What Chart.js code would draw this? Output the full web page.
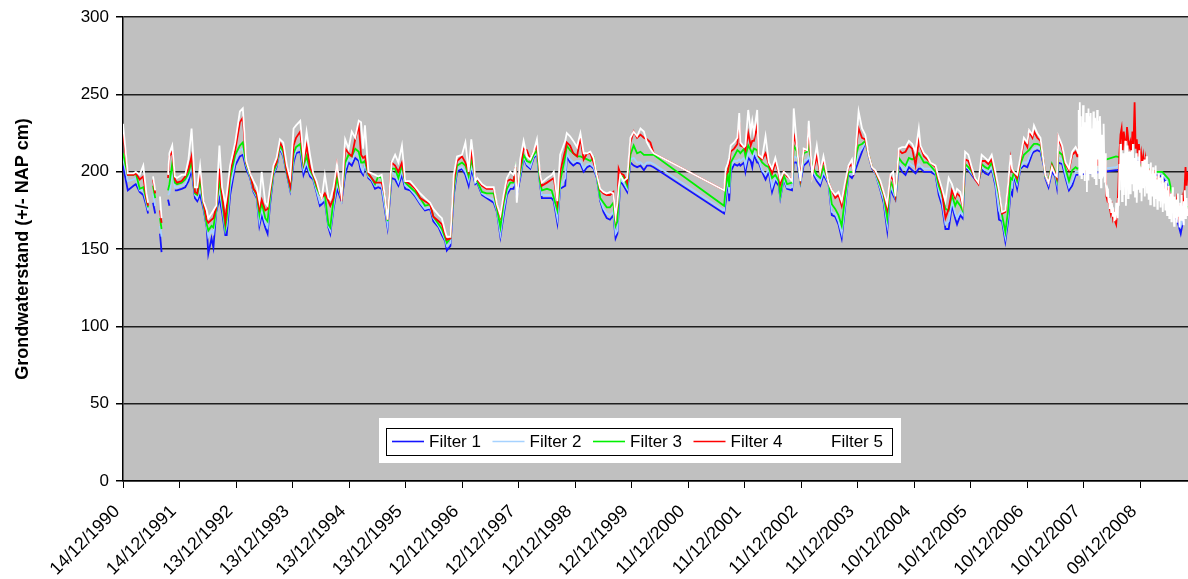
<!DOCTYPE html>
<html>
<head>
<meta charset="utf-8">
<title>Grondwaterstand filters 1-5</title>
<script src="https://cdn.jsdelivr.net/npm/chart.js@4.4.1/dist/chart.umd.min.js"></script>
<style>
  html, body { margin: 0; padding: 0; background: #fff; }
  #wrap { width: 1188px; height: 579px; }
</style>
</head>
<body>
<div id="wrap"><canvas id="chart" width="1188" height="579"></canvas></div>
<script>
// Axis tick labels (one per 365 days from the first reading)
const tickLabels = ['14/12/1990', '14/12/1991', '13/12/1992', '13/12/1993', '13/12/1994', '13/12/1995',
  '12/12/1996', '12/12/1997', '12/12/1998', '12/12/1999', '11/12/2000', '11/12/2001', '11/12/2002',
  '11/12/2003', '10/12/2004', '10/12/2005', '10/12/2006', '10/12/2007', '09/12/2008'];
const axisStart = '1990-12-14';
const axisEnd = '2009-10-15';

const seriesNames = ['Filter 1', 'Filter 2', 'Filter 3', 'Filter 4', 'Filter 5'];

// Manual readings (cm +/- NAP); null = no reading on that date
const dates = [
  '1990-12-14', '1991-01-14', '1991-02-20', '1991-03-07', '1991-04-01', '1991-04-24', '1991-05-14', '1991-05-25', '1991-06-14', '1991-06-26', '1991-07-10', '1991-07-25', '1991-08-10', '1991-08-20', '1991-09-14', '1991-10-01', '1991-10-10', '1991-10-28', '1991-11-14', '1991-11-28', '1991-12-28',
  '1992-01-20', '1992-02-10', '1992-03-01', '1992-03-23', '1992-04-07', '1992-04-25', '1992-05-17', '1992-06-07', '1992-06-17', '1992-07-08', '1992-07-20', '1992-08-07', '1992-08-28', '1992-09-14', '1992-10-05', '1992-10-14', '1992-11-05', '1992-12-08',
  '1993-01-07', '1993-01-26', '1993-02-17', '1993-03-14', '1993-04-05', '1993-04-26', '1993-05-13', '1993-05-28', '1993-06-20', '1993-07-05', '1993-07-20', '1993-08-12', '1993-09-01', '1993-09-23', '1993-10-14', '1993-11-07', '1993-11-28', '1993-12-20',
  '1994-01-05', '1994-02-01', '1994-02-22', '1994-03-14', '1994-04-05', '1994-04-26', '1994-05-17', '1994-06-08', '1994-06-20', '1994-07-10', '1994-08-02', '1994-08-14', '1994-09-04', '1994-09-26', '1994-10-26', '1994-11-18', '1994-12-10', '1994-12-31',
  '1995-01-22', '1995-02-14', '1995-03-01', '1995-03-14', '1995-03-26', '1995-04-17', '1995-05-08', '1995-05-30', '1995-06-20', '1995-07-12', '1995-08-01', '1995-08-19', '1995-09-14', '1995-10-07', '1995-10-28', '1995-11-20', '1995-12-11',
  '1996-01-12', '1996-02-14', '1996-03-17', '1996-04-17', '1996-05-20', '1996-06-10', '1996-07-14', '1996-08-04', '1996-08-26', '1996-09-05', '1996-09-28', '1996-10-20', '1996-11-10', '1996-12-12',
  '1997-01-03', '1997-01-24', '1997-02-10', '1997-02-24', '1997-03-08', '1997-03-20', '1997-04-20', '1997-05-20', '1997-07-05', '1997-07-26', '1997-08-17', '1997-09-07', '1997-09-28', '1997-10-20', '1997-11-10', '1997-11-22', '1997-12-01', '1997-12-23',
  '1998-01-14', '1998-02-04', '1998-02-26', '1998-03-20', '1998-04-10', '1998-05-01', '1998-05-12', '1998-06-14', '1998-07-14', '1998-07-28', '1998-08-20', '1998-09-07', '1998-10-10', '1998-10-20', '1998-11-10', '1998-12-01', '1998-12-25',
  '1999-01-16', '1999-02-06', '1999-02-28', '1999-03-21', '1999-04-11', '1999-05-02', '1999-05-24', '1999-06-14', '1999-07-05', '1999-07-26', '1999-08-17', '1999-08-31', '1999-09-12', '1999-09-20', '1999-10-01', '1999-10-22', '1999-11-14', '1999-12-05', '1999-12-26',
  '2000-01-17', '2000-02-08', '2000-03-01', '2000-03-21', '2000-04-12', '2000-05-03',
  '2001-08-01', '2001-08-12', '2001-08-24', '2001-09-03', '2001-09-13', '2001-10-05', '2001-10-26', '2001-11-07', '2001-11-14', '2001-12-08', '2001-12-17',
  '2002-01-04', '2002-01-20', '2002-01-30', '2002-02-10', '2002-03-03', '2002-03-12', '2002-04-04', '2002-04-26', '2002-05-17', '2002-06-07', '2002-06-28', '2002-07-20', '2002-07-30', '2002-08-21', '2002-09-12', '2002-10-14', '2002-10-25', '2002-11-16', '2002-12-07', '2002-12-28',
  '2003-01-20', '2003-01-30', '2003-02-21', '2003-03-23', '2003-04-14', '2003-05-05', '2003-06-07', '2003-06-28', '2003-07-20', '2003-08-10', '2003-08-31', '2003-09-23', '2003-10-14', '2003-11-05', '2003-11-16', '2003-12-07', '2003-12-18',
  '2004-01-09', '2004-01-30', '2004-02-21', '2004-03-14', '2004-04-04', '2004-05-07', '2004-05-28', '2004-06-20', '2004-07-10', '2004-07-28', '2004-08-12', '2004-09-03', '2004-09-24', '2004-10-16', '2004-11-07', '2004-11-28', '2004-12-20',
  '2005-01-10', '2005-01-21', '2005-02-12', '2005-03-05', '2005-03-26', '2005-04-28', '2005-05-19', '2005-06-09', '2005-07-01', '2005-07-22', '2005-08-12', '2005-09-02', '2005-09-14', '2005-10-05', '2005-10-20', '2005-11-05', '2005-11-26', '2005-12-18',
  '2006-01-09', '2006-01-30', '2006-02-20', '2006-03-14', '2006-04-04', '2006-04-26', '2006-05-20', '2006-06-12', '2006-07-02', '2006-07-23', '2006-08-10', '2006-08-26', '2006-09-05', '2006-09-16', '2006-10-07', '2006-10-28', '2006-11-20', '2006-12-12', '2006-12-23',
  '2007-01-14', '2007-01-24', '2007-02-14', '2007-03-07', '2007-03-28', '2007-04-07', '2007-04-28', '2007-05-20', '2007-06-10', '2007-06-21', '2007-07-01', '2007-07-25', '2007-08-16', '2007-09-07', '2007-09-28', '2007-10-20', '2007-10-30'
];

const filter1 = [
  204, 188, 191, 192, 187, 185, 178, 173, null, 180, 173, null, 160, 148, null, 182, 178, null, 188, 188, 189,
  190, 194, 201, 183, 181, 185, 176, 164, 147, 157, 151, 174, 183, 174, 159, 159, 185, 204,
  210, 211, 202, 196, 187, 183, 165, 172, 164, 160, 178, 198, 203, 215, 210, 198, 188, 206,
  212, 213, 198, 204, 197, 195, 187, 178, 179, 181, 164, 160, 176, 189, 181, 198, 206, 204,
  209, 207, 200, 198, 205, 196, 194, 189, 190, 189, 176, 164, 196, 195, 191, 198, 189,
  188, 184, 179, 175, 176, 168, 164, 159, 155, 149, 152, 185, 200, 202,
  198, 191, 201, 197, 192, 193, 185, 183, 180, 174, 158, 172, 185, 189, 189, 198, 185, 196,
  209, 204, 202, 209, 211, 191, 183, 183, 183, 181, 167, 189, 191, 210, 206, 204, 206,
  205, 200, 203, 204, 202, 196, 181, 174, 170, 169, 172, 157, 160, 175, 194, 191, 187, 206, 204,
  203, 204, 201, 204, 204, 203,
  173, 181, 196, 181, 200, 205, 204, 205, 204, 206, 200,
  209, 207, 203, 211, 206, 206, 200, 195, 200, 187, 194, 191, 183, 195, 189, 188, 206, 206, 193, 204,
  206, 208, 200, 194, 191, 198, 192, 172, 171, 166, 157, 178, 198, 196, 198, 204, 207,
  213, 219, 210, 202, 199, 188, 180, 162, 189, 185, 182, 204, 200, 198, 203, 201, 199,
  202, 202, 200, 200, 200, 198, 185, 178, 163, 163, 178, 170, 166, 172, 170, 202, 201, 198,
  195, 193, 202, 199, 198, 202, 191, 169, 168, 155, 168, 187, 185, 198, 189, 202, 204, 203, 206,
  212, 213, 214, 213, 204, 196, 190, 200, 197, 190, 206, 205, 196, 188, 191, 198, 198
];

const filter2 = [
  209, 194, 195, 196, 188, 188, 180, 175, null, 186, 178, null, 165, 158, null, 185, 186, 200, 190, 190, 191,
  192, 197, 204, 185, 183, 190, 178, 165, 158, 162, 160, 175, 190, 178, 162, 165, 190, 207,
  214, 215, 204, 197, 188, 184, 168, 176, 167, 164, 181, 199, 204, 216, 211, 199, 189, 209,
  214, 216, 201, 206, 199, 196, 188, 180, 181, 183, 165, 162, 178, 193, 182, 202, 208, 207,
  212, 210, 203, 200, 205, 197, 195, 191, 192, 191, 178, 166, 200, 198, 193, 201, 191,
  189, 185, 180, 176, 177, 170, 165, 161, 156, 152, 154, 188, 202, 203,
  200, 194, 204, 199, 193, 194, 186, 184, 182, 175, 160, 175, 187, 191, 191, 200, 186, 198,
  210, 205, 203, 210, 212, 192, 185, 185, 185, 183, 170, 190, 196, 212, 208, 206, 207,
  207, 202, 205, 205, 203, 197, 182, 176, 173, 172, 174, 160, 162, 180, 195, 193, 189, 208, 209,
  206, 206, 204, 206, 206, 205,
  175, 186, 197, 186, 203, 207, 207, 208, 207, 209, 204,
  212, 210, 208, 213, 209, 208, 201, 198, 202, 190, 196, 193, 184, 196, 190, 190, 210, 209, 194, 207,
  208, 210, 201, 196, 193, 200, 193, 174, 173, 168, 160, 180, 199, 198, 199, 209, 212,
  215, 219, 210, 203, 199, 189, 182, 166, 191, 187, 183, 206, 203, 201, 206, 204, 203,
  205, 204, 202, 202, 202, 199, 188, 181, 166, 168, 181, 173, 170, 174, 172, 204, 202, 199,
  196, 193, 203, 201, 200, 203, 193, 175, 170, 158, 172, 191, 190, 199, 192, 203, 206, 206, 209,
  214, 215, 216, 215, 205, 197, 192, 202, 199, 193, 209, 208, 198, 190, 194, 200, 200
];

const filter3 = [
  212, 198, 198, 199, 189, 190, 182, 177, null, 191, 183, null, 170, 163, null, 188, 192, 205, 193, 192, 193,
  195, 199, 207, 186, 185, 194, 179, 166, 162, 165, 164, 176, 195, 182, 164, 170, 196, 211,
  217, 219, 205, 198, 189, 185, 172, 180, 170, 168, 183, 200, 205, 217, 213, 199, 190, 212,
  216, 218, 204, 210, 201, 197, 190, 185, 184, 185, 166, 164, 182, 196, 183, 206, 211, 210,
  215, 213, 206, 206, 207, 198, 196, 192, 197, 196, 184, 168, 202, 202, 196, 204, 193,
  190, 187, 183, 178, 179, 171, 166, 163, 157, 154, 157, 190, 204, 206,
  204, 197, 208, 202, 195, 194, 187, 186, 186, 176, 164, 180, 189, 193, 193, 201, 187, 200,
  211, 207, 206, 211, 214, 193, 188, 189, 188, 183, 175, 194, 210, 217, 214, 212, 210,
  210, 209, 208, 207, 209, 198, 183, 180, 177, 177, 180, 165, 168, 185, 197, 197, 191, 211, 217,
  212, 213, 211, 211, 211, 211,
  178, 190, 199, 190, 206, 210, 214, 213, 212, 215, 210,
  217, 214, 212, 215, 214, 210, 206, 204, 203, 196, 198, 194, 185, 198, 192, 193, 217, 213, 195, 212,
  213, 217, 204, 198, 196, 203, 194, 179, 176, 172, 165, 185, 200, 200, 200, 213, 217,
  218, 220, 211, 203, 200, 191, 185, 170, 194, 190, 184, 209, 206, 204, 209, 208, 209,
  212, 210, 206, 206, 204, 200, 191, 185, 176, 175, 185, 178, 181, 178, 175, 205, 203, 200,
  196, 193, 205, 203, 202, 206, 196, 185, 172, 161, 175, 196, 195, 200, 194, 205, 211, 213, 214,
  217, 218, 218, 217, 206, 197, 194, 205, 200, 195, 213, 211, 202, 194, 201, 203, 202
];

const filter4 = [
  226, 198, 198, 199, 195, 197, 183, 178, null, 195, 186, null, 175, 167, null, 196, 210, 213, 195, 193, 194,
  197, 202, 210, 187, 186, 200, 180, 169, 167, 169, 170, 177, 202, 185, 168, 177, 200, 214,
  232, 235, 206, 199, 189, 186, 176, 182, 175, 176, 186, 202, 206, 219, 215, 200, 191, 217,
  222, 226, 206, 217, 203, 198, 192, 186, 183, 186, 181, 178, 183, 204, 181, 215, 212, 210,
  221, 230, 211, 209, 210, 199, 196, 193, 193, 193, 185, 169, 206, 204, 200, 206, 194,
  192, 189, 183, 181, 179, 171, 168, 166, 159, 156, 157, 194, 207, 210,
  206, 200, 213, 204, 196, 195, 191, 189, 189, 178, 171, 183, 194, 195, 194, 203, 188, 203,
  215, 214, 208, 213, 217, 197, 191, 193, 195, 196, 180, 200, 214, 219, 217, 212, 210,
  222, 208, 212, 212, 206, 199, 188, 186, 185, 185, 187, 170, 178, 202, 199, 198, 193, 219, 226,
  222, 224, 222, 221, 219, 212,
  188, 198, 200, 205, 213, 215, 218, 232, 217, 216, 214,
  225, 217, 220, 220, 230, 210, 208, 212, 205, 199, 206, 199, 192, 200, 197, 195, 224, 216, 196, 214,
  214, 228, 198, 210, 199, 208, 193, 188, 183, 185, 178, 192, 203, 205, 200, 220, 228,
  222, 221, 211, 203, 200, 193, 186, 176, 197, 195, 185, 214, 212, 213, 217, 215, 204,
  220, 216, 210, 208, 206, 203, 194, 187, 170, 176, 188, 183, 186, 184, 178, 208, 207, 201,
  195, 192, 207, 207, 205, 208, 198, 187, 173, 174, 190, 208, 200, 200, 196, 207, 220, 216, 226,
  222, 226, 222, 220, 206, 198, 193, 204, 199, 196, 222, 215, 205, 201, 211, 213, 210
];

const filter5 = [
  231, 199, 199, 200, 198, 204, 186, 180, null, 197, 188, null, 184, 170, null, 198, 212, 217, 197, 196, 198,
  198, 208, 228, 190, 190, 204, 181, 175, 170, 173, 175, 178, 217, 190, 179, 185, 204, 219,
  239, 241, 207, 199, 194, 190, 181, 200, 180, 178, 189, 204, 209, 221, 219, 204, 196, 228,
  230, 233, 209, 226, 211, 199, 194, 186, 183, 198, 183, 182, 190, 205, 184, 221, 215, 226,
  222, 233, 232, 215, 230, 200, 199, 198, 197, 198, 185, 169, 206, 211, 206, 217, 194,
  194, 190, 186, 183, 180, 176, 172, 170, 161, 158, 158, 198, 210, 211,
  219, 200, 221, 209, 194, 196, 192, 190, 190, 179, 172, 185, 196, 200, 198, 203, 180, 208,
  220, 210, 208, 213, 221, 198, 193, 196, 198, 200, 181, 211, 220, 225, 223, 220, 216,
  225, 212, 212, 213, 209, 198, 189, 187, 186, 187, 186, 171, 180, 190, 198, 194, 196, 222, 226,
  223, 228, 226, 219, 215, 212,
  188, 202, 205, 209, 217, 219, 222, 238, 219, 216, 217,
  240, 226, 233, 225, 240, 211, 209, 223, 206, 202, 209, 200, 195, 200, 198, 194, 241, 215, 194, 215,
  214, 233, 198, 217, 200, 210, 193, 188, 185, 187, 181, 194, 204, 208, 198, 224, 239,
  228, 224, 211, 203, 201, 194, 187, 179, 198, 200, 184, 215, 216, 216, 220, 218, 213,
  228, 217, 212, 210, 206, 204, 196, 189, 181, 196, 192, 185, 189, 187, 179, 213, 211, 203,
  196, 193, 211, 209, 207, 211, 200, 188, 174, 175, 192, 211, 202, 200, 198, 209, 222, 219, 227,
  224, 230, 225, 222, 206, 198, 193, 203, 198, 197, 223, 217, 206, 202, 213, 216, 214
];

// Later manual readings of filters 1-3
const lateDates = ['2008-07-07', '2008-08-17', '2008-09-29', '2008-12-03', '2009-01-17', '2009-03-20',
  '2009-05-02', '2009-06-14', '2009-07-05', '2009-08-08', '2009-08-29', '2009-09-20', '2009-10-11'];
const filter1Late = [201, 202, 204, 207, 202, 198, 197, 190, 175, 168, 160, 172, 175];
const filter2Late = [203, 205, 206, 209, 204, 200, 199, 193, 180, 172, 165, 175, 178];
const filter3Late = [210, 209, 206, 205, 203, 200, 200, 195, 185, 178, 170, 174, 178];

// Weekly logger readings of filter 4 (Tuesdays)
const filter4LoggerDates = [
  '2007-11-06', '2007-11-13', '2007-11-20', '2007-11-27', '2007-12-04', '2007-12-11', '2007-12-18', '2007-12-25',
  '2008-01-01', '2008-01-08', '2008-01-15', '2008-01-22', '2008-01-29', '2008-02-05', '2008-02-12', '2008-02-19', '2008-02-26',
  '2008-03-04', '2008-03-11', '2008-03-18', '2008-03-25', '2008-04-01', '2008-04-08', '2008-04-15', '2008-04-22', '2008-04-29',
  '2008-05-06', '2008-05-13', '2008-05-20', '2008-05-27', '2008-06-03', '2008-06-10', '2008-06-17', '2008-06-24',
  '2008-07-01', '2008-07-08', '2008-07-15', '2008-07-22', '2008-07-29', '2008-08-05', '2008-08-12', '2008-08-19', '2008-08-26',
  '2008-09-02', '2008-09-09', '2008-09-16', '2008-09-23', '2008-09-30', '2008-10-07', '2008-10-14', '2008-10-21', '2008-10-28',
  '2008-11-04', '2008-11-11', '2008-11-18', '2008-11-25', '2008-12-02', '2008-12-09', '2008-12-16', '2008-12-23', '2008-12-30',
  '2009-01-06', '2009-01-13', '2009-01-20', '2009-01-27', '2009-02-03', '2009-02-10', '2009-02-17', '2009-02-24',
  '2009-03-03', '2009-03-10', '2009-03-17', '2009-03-24', '2009-03-31', '2009-04-07', '2009-04-14', '2009-04-21', '2009-04-28',
  '2009-05-05', '2009-05-12', '2009-05-19', '2009-05-26', '2009-06-02', '2009-06-09', '2009-06-16', '2009-06-23', '2009-06-30',
  '2009-07-07', '2009-07-14', '2009-07-21', '2009-07-28', '2009-08-04', '2009-08-11', '2009-08-18', '2009-08-25',
  '2009-09-01', '2009-09-08', '2009-09-15', '2009-09-22', '2009-09-29', '2009-10-06', '2009-10-13'
];
const filter4Logger = [
  210, 222, 204, 220, 206, 226, 200, 214,
  196, 218, 222, 206, 220, 210, 212, 221, 200, 217, 204, 224, 210, 219, 198, 214, 203, 206,
  184, 181, 182, 177, 173, 177, 170, 173, 168, 166, 175, 190,
  212, 224, 228, 214, 226, 220, 212, 229, 222, 216, 219, 210, 226, 218, 245, 215, 221, 210, 218, 207, 212, 204, 210,
  203, 208, 198, 205, 196, 202, 192, 199, 194, 201, 190, 196, 187, 198, 191, 188, 194, 184, 190, 186,
  181, 190, 183, 187, 179, 186, 176, 183, 179, 174, 181, 175, 170, 177, 175, 182, 176, 187, 203, 191, 200
];

// Twice-weekly logger readings of filter 5 (Tuesdays and Fridays)
const filter5LoggerDates = [
  '2007-11-06', '2007-11-09', '2007-11-13', '2007-11-16', '2007-11-20', '2007-11-23', '2007-11-27', '2007-11-30',
  '2007-12-04', '2007-12-07', '2007-12-11', '2007-12-14', '2007-12-18', '2007-12-21', '2007-12-25', '2007-12-28',
  '2008-01-01', '2008-01-04', '2008-01-08', '2008-01-11', '2008-01-15', '2008-01-18', '2008-01-22', '2008-01-25', '2008-01-29',
  '2008-02-01', '2008-02-05', '2008-02-08', '2008-02-12', '2008-02-15', '2008-02-19', '2008-02-22', '2008-02-26', '2008-02-29',
  '2008-03-04', '2008-03-07', '2008-03-11', '2008-03-14', '2008-03-18', '2008-03-21', '2008-03-25', '2008-03-28',
  '2008-04-01', '2008-04-04', '2008-04-08', '2008-04-11', '2008-04-15', '2008-04-18', '2008-04-22', '2008-04-25', '2008-04-29',
  '2008-05-02', '2008-05-06', '2008-05-09', '2008-05-13', '2008-05-16', '2008-05-20', '2008-05-23', '2008-05-27', '2008-05-30',
  '2008-06-03', '2008-06-06', '2008-06-10', '2008-06-13', '2008-06-17', '2008-06-20', '2008-06-24', '2008-06-27',
  '2008-07-01', '2008-07-04', '2008-07-08', '2008-07-11', '2008-07-15', '2008-07-18', '2008-07-22', '2008-07-25',
  '2008-07-29', '2008-08-01', '2008-08-05', '2008-08-08', '2008-08-12', '2008-08-15', '2008-08-19', '2008-08-22', '2008-08-26', '2008-08-29',
  '2008-09-02', '2008-09-05', '2008-09-09', '2008-09-12', '2008-09-16', '2008-09-19', '2008-09-23', '2008-09-26', '2008-09-30',
  '2008-10-03', '2008-10-07', '2008-10-10', '2008-10-14', '2008-10-17', '2008-10-21', '2008-10-24', '2008-10-28', '2008-10-31',
  '2008-11-04', '2008-11-07', '2008-11-11', '2008-11-14', '2008-11-18', '2008-11-21', '2008-11-25', '2008-11-28',
  '2008-12-02', '2008-12-05', '2008-12-09', '2008-12-12', '2008-12-16', '2008-12-19', '2008-12-23', '2008-12-26', '2008-12-30',
  '2009-01-02', '2009-01-06', '2009-01-09', '2009-01-13', '2009-01-16', '2009-01-20', '2009-01-23', '2009-01-27', '2009-01-30',
  '2009-02-03', '2009-02-06', '2009-02-10', '2009-02-13', '2009-02-17', '2009-02-20', '2009-02-24', '2009-02-27',
  '2009-03-03', '2009-03-06', '2009-03-10', '2009-03-13', '2009-03-17', '2009-03-20', '2009-03-24', '2009-03-27', '2009-03-31',
  '2009-04-03', '2009-04-07', '2009-04-10', '2009-04-14', '2009-04-17', '2009-04-21', '2009-04-24', '2009-04-28',
  '2009-05-01', '2009-05-05', '2009-05-08', '2009-05-12', '2009-05-15', '2009-05-19', '2009-05-22', '2009-05-26', '2009-05-29',
  '2009-06-02', '2009-06-05', '2009-06-09', '2009-06-12', '2009-06-16', '2009-06-19', '2009-06-23', '2009-06-26', '2009-06-30',
  '2009-07-03', '2009-07-07', '2009-07-10', '2009-07-14', '2009-07-17', '2009-07-21', '2009-07-24', '2009-07-28', '2009-07-31',
  '2009-08-04', '2009-08-07', '2009-08-11', '2009-08-14', '2009-08-18', '2009-08-21', '2009-08-25', '2009-08-28',
  '2009-09-01', '2009-09-04', '2009-09-08', '2009-09-11', '2009-09-15', '2009-09-18', '2009-09-22', '2009-09-25', '2009-09-29',
  '2009-10-02', '2009-10-06', '2009-10-09', '2009-10-13'
];
const filter5Logger = [
  212, 240, 198, 245, 203, 236, 196, 229, 205, 243, 199, 232, 194, 222, 201, 238,
  187, 230, 195, 241, 204, 236, 199, 238, 210, 228, 197, 217, 239, 201, 196, 235, 229, 192,
  201, 240, 208, 233, 215, 196, 236, 226, 190, 221, 224, 197, 198, 231, 208, 193, 212,
  192, 186, 184, 189, 188, 180, 183, 176, 182, 178, 174, 180, 177, 171, 176, 172, 168, 174, 169, 180, 176, 175, 170, 183, 178,
  205, 188, 218, 195, 214, 181, 206, 212, 185, 203, 190, 220, 178, 199, 206, 217, 183, 196, 213, 210,
  186, 200, 214, 192, 201, 218, 188, 193, 209, 184, 199, 212, 180, 196, 207, 189, 205, 214, 187, 198,
  203, 181, 207, 195, 190,
  197, 208, 184, 203, 191, 210, 186, 199, 205, 182, 194, 201, 179, 206, 188, 196, 184, 203, 192, 178,
  199, 187, 204, 183, 195, 176, 191, 199, 181, 188, 196, 177, 190, 185, 198, 174, 186, 193, 180, 189,
  175, 194, 183, 172, 188, 179, 191, 170, 184, 177, 186, 168, 181, 190, 173, 178, 165, 184, 176, 170,
  182, 167, 178, 186, 171, 175, 164, 180, 173, 169, 185, 172, 177, 166, 181, 174, 188, 170, 179, 183,
  172, 176
];

const lineColors = ['#1414ff', '#a6d2ff', '#00f000', '#ff0000', '#ffffff'];
const FONT = '"Liberation Sans", Arial, Helvetica, sans-serif';

// Day number counted from the first measurement date
const DAY = 86400000;
function dayNumber(iso) {
  const [y, m, d] = iso.split('-').map(Number);
  const [y0, m0, d0] = axisStart.split('-').map(Number);
  return Math.round((Date.UTC(y, m - 1, d) - Date.UTC(y0, m0 - 1, d0)) / DAY);
}
function labelDay(label) {
  const [d, m, y] = label.split('/');
  return dayNumber(`${y}-${m}-${d}`);
}
function points(list, values) {
  return list.map((d, i) => ({ x: dayNumber(d), y: values[i] }));
}

const seriesData = [
  points(dates, filter1).concat(points(lateDates, filter1Late)),
  points(dates, filter2).concat(points(lateDates, filter2Late)),
  points(dates, filter3).concat(points(lateDates, filter3Late)),
  points(dates, filter4).concat(points(filter4LoggerDates, filter4Logger)),
  points(dates, filter5).concat(points(filter5LoggerDates, filter5Logger))
];
const tickDays = tickLabels.map(labelDay);

// Grey plotting area
const plotBackground = {
  id: 'plotBackground',
  beforeDraw(chart) {
    const { ctx, chartArea: a } = chart;
    ctx.save();
    ctx.fillStyle = '#c0c0c0';
    ctx.fillRect(a.left, a.top, a.right - a.left, a.bottom - a.top);
    ctx.restore();
  }
};

// Boxed legend inside the plot area, one row of five entries
const boxedLegend = {
  id: 'boxedLegend',
  afterDraw(chart) {
    const { ctx, chartArea: a } = chart;
    const left = a.left + 256, top = a.bottom - 63;
    ctx.save();
    ctx.fillStyle = '#ffffff';
    ctx.fillRect(left, top, 522, 45);
    ctx.strokeStyle = '#000000';
    ctx.lineWidth = 1;
    ctx.strokeRect(left + 7.5, top + 10.5, 506, 27);
    ctx.font = `17px ${FONT}`;
    ctx.textBaseline = 'middle';
    ctx.textAlign = 'left';
    chart.data.datasets.forEach((ds, i) => {
      const x = left + 13 + i * 100.5;
      const y = top + 23.5;
      ctx.strokeStyle = ds.borderColor;
      ctx.lineWidth = 1.6;
      ctx.beginPath();
      ctx.moveTo(x, y);
      ctx.lineTo(x + 32, y);
      ctx.stroke();
      ctx.fillStyle = '#000000';
      ctx.fillText(ds.label, x + 37, y + 1);
    });
    ctx.restore();
  }
};

new Chart(document.getElementById('chart'), {
  type: 'line',
  data: {
    datasets: seriesNames.map((name, i) => ({
      label: name,
      data: seriesData[i],
      borderColor: lineColors[i],
      backgroundColor: lineColors[i],
      borderWidth: 1.8,
      pointRadius: 0,
      pointHoverRadius: 0,
      tension: 0,
      spanGaps: false,
      order: seriesNames.length - i
    }))
  },
  options: {
    responsive: false,
    animation: false,
    events: [],
    layout: { padding: { top: 17, right: 0, bottom: 0, left: 0 } },
    plugins: { legend: { display: false }, tooltip: { enabled: false } },
    scales: {
      x: {
        type: 'linear',
        min: 0,
        max: dayNumber(axisEnd),
        afterBuildTicks(scale) { scale.ticks = tickDays.map(v => ({ value: v })); },
        afterFit(scale) { scale.height = 98; },
        ticks: {
          autoSkip: false,
          minRotation: 45,
          maxRotation: 45,
          padding: 13,
          labelOffset: -6,
          color: '#000',
          font: { family: FONT, size: 18 },
          callback: (value, index) => tickLabels[index]
        },
        grid: { drawOnChartArea: false, drawTicks: true, tickLength: 7, tickColor: '#000' },
        border: { display: true, color: '#000', width: 1.5 }
      },
      y: {
        min: 0,
        max: 300,
        afterFit(scale) { scale.width = 123; },
        ticks: { stepSize: 50, padding: 7, color: '#000', font: { family: FONT, size: 17 } },
        grid: { color: '#1e1e1e', lineWidth: 1.5, drawTicks: true, tickLength: 7, tickColor: '#000' },
        border: { display: true, color: '#000', width: 1.5 },
        title: {
          display: true,
          text: 'Grondwaterstand (+/- NAP cm)',
          color: '#000',
          font: { family: FONT, size: 18, weight: 'bold' },
          padding: { top: 12, bottom: 0 }
        }
      }
    }
  },
  plugins: [plotBackground, boxedLegend]
});
</script>
</body>
</html>
